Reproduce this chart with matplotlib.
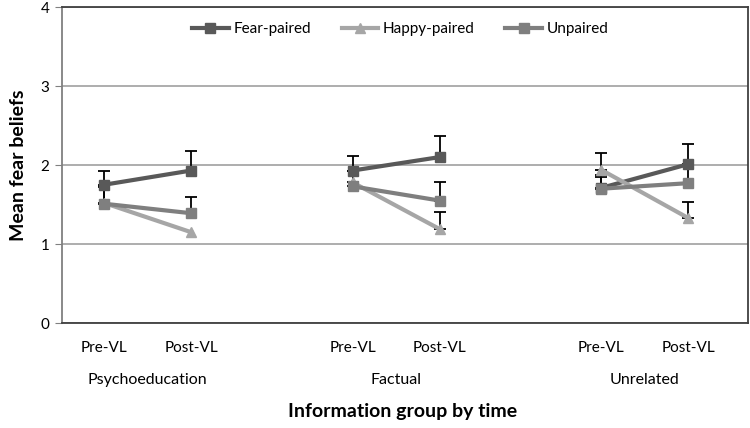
import numpy as np
import matplotlib
matplotlib.use("Agg")
import matplotlib.pyplot as plt
from matplotlib.lines import Line2D

plt.rcParams['font.family'] = ['Lato', 'DejaVu Sans']

groups = ["Psychoeducation", "Factual", "Unrelated"]
times = ["Pre-VL", "Post-VL"]

# means per group (pre, post)
fear = [1.75, 1.93, 1.93, 2.10, 1.71, 2.01]
happy = [1.52, 1.15, 1.78, 1.19, 1.94, 1.33]
unpaired = [1.51, 1.39, 1.73, 1.55, 1.70, 1.77]

# upper error bars (0 = none visible)
fear_err = [0.17, 0.25, 0.18, 0.27, 0.16, 0.25]
happy_err = [0.20, 0.00, 0.15, 0.22, 0.21, 0.20]
unpaired_err = [0.22, 0.21, 0.19, 0.23, 0.15, 0.22]

series = [
    ("Fear-paired", fear, fear_err, "#595959", "s"),
    ("Happy-paired", happy, happy_err, "#a6a6a6", "^"),
    ("Unpaired", unpaired, unpaired_err, "#7f7f7f", "s"),
]

fig = plt.figure(figsize=(7.5, 4.28), dpi=100)
ax = fig.add_axes([0.0827, 0.2453, 0.9146, 0.7383])

off = 0.175
xpos = []
for g in range(len(groups)):
    xpos.append([g - off, g + off])

handles = []
for name, vals, errs, col, mk in series:
    for g in range(len(groups)):
        v = vals[2 * g:2 * g + 2]
        e = errs[2 * g:2 * g + 2]
        ax.plot(xpos[g], v, color=col, lw=3, marker=mk, ms=7.5,
                mec=col, mfc=col, zorder=3)
        for x, y, err in zip(xpos[g], v, e):
            if err > 0:
                ax.errorbar([x], [y], yerr=[[0], [err]], fmt='none',
                            ecolor='black', elinewidth=1.3, capsize=4,
                            capthick=1.3, zorder=2.5)
    handles.append(Line2D([], [], color=col, lw=3, marker=mk, ms=7.5,
                          mec=col, mfc=col, label=name))

ax.set_xlim(-0.344, 2.416)
ax.set_ylim(0, 4)
ax.set_yticks([0, 1, 2, 3, 4])
ax.yaxis.grid(True, color='#a0a0a0', lw=1.2)
ax.set_axisbelow(True)

ticks = [x for pair in xpos for x in pair]
ax.set_xticks(ticks)
ax.set_xticklabels(times * len(groups), fontsize=11)
ax.tick_params(axis='x', length=0, pad=13)
ax.tick_params(axis='y', length=5, color='#808080', labelsize=11, pad=4)

for s in ['top', 'right', 'bottom']:
    ax.spines[s].set_color('#404040')
    ax.spines[s].set_linewidth(1.3)
ax.spines['left'].set_color('#808080')
ax.spines['left'].set_linewidth(1.3)

for g, name in enumerate(groups):
    ax.text(g, -0.72, name, ha='center', va='center', fontsize=11.5,
            transform=ax.transData)

ax.set_ylabel("Mean fear beliefs", fontsize=14, fontweight='bold', labelpad=10)
fig.text(0.5373, 1 - 412 / 428, "Information group by time", ha='center',
         va='center', fontsize=14, fontweight='bold')

ax.legend(handles=handles, loc='center', bbox_to_anchor=(0.493, 0.93), ncol=3,
          frameon=False, fontsize=11, handlelength=2.4,
          columnspacing=2.0, handletextpad=0.3)

fig.savefig("out.png", dpi=100)
